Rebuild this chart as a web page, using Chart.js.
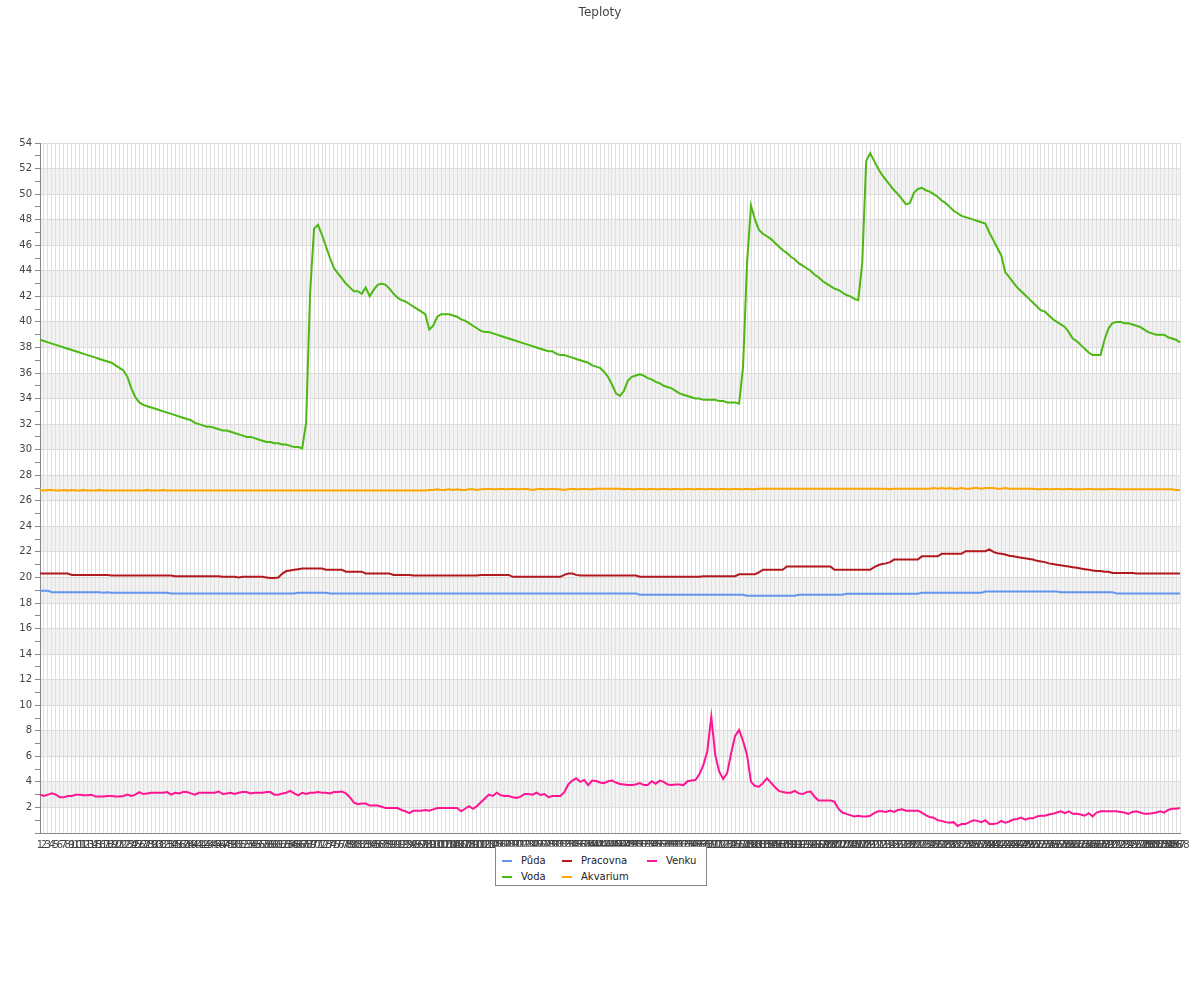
<!DOCTYPE html>
<html>
<head>
<meta charset="utf-8">
<title>Teploty</title>
<script src="https://cdn.jsdelivr.net/npm/chart.js@4.4.1/dist/chart.umd.min.js"></script>
<style>
    body { margin: 0; background: #fff; }
    #wrap { position: relative; width: 1200px; height: 1000px; }
    #legend {
        position: absolute; left: 495px; top: 846px; width: 212px; height: 40px;
        box-sizing: border-box; border: 1px solid #888; background: #fff;
        font: 10px "DejaVu Sans", sans-serif; color: #222;
    }
    #legend .sw { position: absolute; width: 10px; height: 2px; }
    #legend .tx { position: absolute; line-height: 12px; white-space: nowrap; }
</style>
</head>
<body>
<div id="wrap">
    <canvas id="teplotyChart" width="1200" height="1000"></canvas>
    <div id="legend"></div>
</div>
<script>
// kategorie 1..288 (5 min krok)
var labels = Array.from({ length: 288 }, function(_, i) { return String(i + 1); });

var puda = [
    18.95,18.95,18.95,18.85,18.85,18.85,18.85,18.85,18.85,18.85,18.85,18.85,18.85,18.85,18.85,18.85,
    18.8,18.85,18.8,18.8,18.8,18.8,18.8,18.8,18.8,18.8,18.8,18.8,18.8,18.8,18.8,18.8,
    18.8,18.75,18.75,18.75,18.75,18.75,18.75,18.75,18.75,18.75,18.75,18.75,18.75,18.75,18.75,18.75,
    18.75,18.75,18.75,18.75,18.75,18.75,18.75,18.75,18.75,18.75,18.75,18.75,18.75,18.75,18.75,18.75,
    18.75,18.8,18.8,18.8,18.8,18.8,18.8,18.8,18.8,18.75,18.75,18.75,18.75,18.75,18.75,18.75,
    18.75,18.75,18.75,18.75,18.75,18.75,18.75,18.75,18.75,18.75,18.75,18.75,18.75,18.75,18.75,18.75,
    18.75,18.75,18.75,18.75,18.75,18.75,18.75,18.75,18.75,18.75,18.75,18.75,18.75,18.75,18.75,18.75,
    18.75,18.75,18.75,18.75,18.75,18.75,18.75,18.75,18.75,18.75,18.75,18.75,18.75,18.75,18.75,18.75,
    18.75,18.75,18.75,18.75,18.75,18.75,18.75,18.75,18.75,18.75,18.75,18.75,18.75,18.75,18.75,18.75,
    18.75,18.75,18.75,18.75,18.75,18.75,18.75,18.65,18.65,18.65,18.65,18.65,18.65,18.65,18.65,18.65,
    18.65,18.65,18.65,18.65,18.65,18.65,18.65,18.65,18.65,18.65,18.65,18.65,18.65,18.65,18.65,18.65,
    18.65,18.65,18.57,18.57,18.57,18.57,18.57,18.57,18.57,18.57,18.57,18.57,18.57,18.57,18.57,18.65,
    18.65,18.65,18.65,18.65,18.65,18.65,18.65,18.65,18.65,18.65,18.65,18.72,18.72,18.72,18.72,18.72,
    18.72,18.72,18.72,18.72,18.72,18.72,18.72,18.72,18.72,18.72,18.72,18.72,18.72,18.72,18.8,18.8,
    18.8,18.8,18.8,18.8,18.8,18.8,18.8,18.8,18.8,18.8,18.8,18.8,18.8,18.8,18.9,18.9,
    18.9,18.9,18.9,18.9,18.9,18.9,18.9,18.9,18.9,18.9,18.9,18.9,18.9,18.9,18.9,18.9,
    18.9,18.85,18.85,18.85,18.85,18.85,18.85,18.85,18.85,18.85,18.85,18.85,18.85,18.85,18.85,18.75,
    18.75,18.75,18.75,18.75,18.75,18.75,18.75,18.75,18.75,18.75,18.75,18.75,18.75,18.75,18.75,18.75
];

var voda = [
    38.6,38.5,38.4,38.3,38.2,38.1,38.0,37.9,37.8,37.7,37.6,37.5,37.4,37.3,37.2,37.1,
    37.0,36.9,36.8,36.6,36.4,36.2,35.7,34.8,34.1,33.7,33.5,33.4,33.3,33.2,33.1,33.0,
    32.9,32.8,32.7,32.6,32.5,32.4,32.3,32.1,32.0,31.9,31.8,31.8,31.7,31.6,31.5,31.5,
    31.4,31.3,31.2,31.1,31.0,31.0,30.9,30.8,30.7,30.6,30.6,30.5,30.5,30.4,30.4,30.3,
    30.2,30.2,30.1,32.1,42.3,47.3,47.6,46.8,45.9,45.0,44.2,43.8,43.4,43.0,42.7,42.4,
    42.4,42.2,42.7,42.0,42.5,42.9,43.0,42.9,42.6,42.2,41.9,41.7,41.6,41.4,41.2,41.0,
    40.8,40.6,39.4,39.7,40.4,40.6,40.6,40.6,40.5,40.4,40.2,40.1,39.9,39.7,39.5,39.3,
    39.2,39.2,39.1,39.0,38.9,38.8,38.7,38.6,38.5,38.4,38.3,38.2,38.1,38.0,37.9,37.8,
    37.7,37.7,37.5,37.4,37.4,37.3,37.2,37.1,37.0,36.9,36.8,36.6,36.5,36.4,36.1,35.7,
    35.1,34.4,34.2,34.6,35.4,35.7,35.8,35.9,35.8,35.6,35.5,35.3,35.2,35.0,34.9,34.8,
    34.6,34.4,34.3,34.2,34.1,34.0,34.0,33.9,33.9,33.9,33.9,33.8,33.8,33.7,33.7,33.7,
    33.6,36.5,44.6,49.1,48.0,47.2,46.9,46.7,46.5,46.2,45.9,45.6,45.4,45.1,44.9,44.6,
    44.4,44.2,44.0,43.7,43.5,43.2,43.0,42.8,42.6,42.5,42.3,42.1,42.0,41.8,41.7,44.6,
    52.6,53.2,52.6,52.0,51.5,51.1,50.7,50.3,50.0,49.6,49.2,49.3,50.1,50.4,50.5,50.3,
    50.2,50.0,49.8,49.5,49.3,49.0,48.7,48.5,48.3,48.2,48.1,48.0,47.9,47.8,47.7,47.0,
    46.4,45.8,45.2,43.9,43.5,43.1,42.7,42.4,42.1,41.8,41.5,41.2,40.9,40.8,40.5,40.2,
    40.0,39.8,39.6,39.2,38.7,38.5,38.2,37.9,37.6,37.4,37.4,37.4,38.6,39.5,39.9,40.0,
    40.0,39.9,39.9,39.8,39.7,39.6,39.4,39.2,39.1,39.0,39.0,39.0,38.8,38.7,38.6,38.4
];

var pracovna = [
    20.3,20.3,20.3,20.3,20.3,20.3,20.3,20.3,20.2,20.2,20.2,20.2,20.2,20.2,20.2,20.2,
    20.2,20.2,20.15,20.15,20.15,20.15,20.15,20.15,20.15,20.15,20.15,20.15,20.15,20.15,20.15,20.15,
    20.15,20.15,20.1,20.1,20.1,20.1,20.1,20.1,20.1,20.1,20.1,20.1,20.1,20.1,20.05,20.05,
    20.05,20.05,20.0,20.05,20.05,20.05,20.05,20.05,20.05,20.0,19.95,19.95,20.0,20.3,20.5,20.55,
    20.6,20.65,20.7,20.7,20.7,20.7,20.7,20.7,20.6,20.6,20.6,20.6,20.6,20.45,20.45,20.45,
    20.45,20.45,20.3,20.3,20.3,20.3,20.3,20.3,20.3,20.2,20.2,20.2,20.2,20.2,20.15,20.15,
    20.15,20.15,20.15,20.15,20.15,20.15,20.15,20.15,20.15,20.15,20.15,20.15,20.15,20.15,20.15,20.2,
    20.2,20.2,20.2,20.2,20.2,20.2,20.2,20.05,20.05,20.05,20.05,20.05,20.05,20.05,20.05,20.05,
    20.05,20.05,20.05,20.05,20.2,20.3,20.3,20.2,20.15,20.15,20.15,20.15,20.15,20.15,20.15,20.15,
    20.15,20.15,20.15,20.15,20.15,20.15,20.15,20.05,20.05,20.05,20.05,20.05,20.05,20.05,20.05,20.05,
    20.05,20.05,20.05,20.05,20.05,20.05,20.05,20.1,20.1,20.1,20.1,20.1,20.1,20.1,20.1,20.1,
    20.25,20.25,20.25,20.25,20.25,20.4,20.6,20.6,20.6,20.6,20.6,20.6,20.85,20.85,20.85,20.85,
    20.85,20.85,20.85,20.85,20.85,20.85,20.85,20.85,20.6,20.6,20.6,20.6,20.6,20.6,20.6,20.6,
    20.6,20.6,20.8,20.95,21.05,21.1,21.2,21.4,21.4,21.4,21.4,21.4,21.4,21.4,21.65,21.65,
    21.65,21.65,21.65,21.85,21.85,21.85,21.85,21.85,21.85,22.05,22.05,22.05,22.05,22.05,22.05,22.2,
    22.0,21.9,21.85,21.8,21.7,21.65,21.6,21.55,21.5,21.45,21.4,21.3,21.25,21.2,21.1,21.05,
    21.0,20.95,20.9,20.85,20.8,20.75,20.7,20.65,20.6,20.55,20.5,20.5,20.45,20.45,20.35,20.35,
    20.35,20.35,20.35,20.35,20.3,20.3,20.3,20.3,20.3,20.3,20.3,20.3,20.3,20.3,20.3,20.3
];

var akvarium = [
    26.85,26.8,26.85,26.85,26.8,26.8,26.85,26.8,26.85,26.8,26.8,26.85,26.8,26.8,26.8,26.85,
    26.8,26.8,26.8,26.8,26.8,26.8,26.8,26.8,26.8,26.8,26.8,26.85,26.8,26.8,26.8,26.85,
    26.8,26.8,26.8,26.8,26.8,26.8,26.8,26.8,26.8,26.8,26.8,26.8,26.8,26.8,26.8,26.8,
    26.8,26.8,26.8,26.8,26.8,26.8,26.8,26.8,26.8,26.8,26.8,26.8,26.8,26.8,26.8,26.8,
    26.8,26.8,26.8,26.8,26.8,26.8,26.8,26.8,26.8,26.8,26.8,26.8,26.8,26.8,26.8,26.8,
    26.8,26.8,26.8,26.8,26.8,26.8,26.8,26.8,26.8,26.8,26.8,26.8,26.8,26.8,26.8,26.8,
    26.8,26.8,26.85,26.85,26.9,26.85,26.85,26.9,26.85,26.9,26.85,26.85,26.9,26.9,26.85,26.9,
    26.9,26.95,26.9,26.9,26.95,26.9,26.9,26.95,26.9,26.9,26.95,26.9,26.85,26.9,26.95,26.9,
    26.9,26.95,26.9,26.9,26.85,26.9,26.95,26.9,26.9,26.95,26.9,26.9,26.95,26.95,26.95,26.95,
    26.95,26.95,26.95,26.9,26.95,26.9,26.9,26.95,26.9,26.9,26.95,26.9,26.9,26.95,26.9,26.9,
    26.95,26.9,26.9,26.95,26.9,26.9,26.95,26.9,26.9,26.95,26.9,26.9,26.95,26.9,26.9,26.95,
    26.9,26.9,26.95,26.9,26.9,26.95,26.95,26.95,26.95,26.95,26.95,26.95,26.95,26.95,26.95,26.95,
    26.95,26.95,26.95,26.95,26.95,26.95,26.95,26.95,26.95,26.95,26.95,26.95,26.95,26.95,26.95,26.95,
    26.95,26.95,26.95,26.95,26.95,26.95,26.9,26.95,26.95,26.95,26.95,26.95,26.95,26.95,26.95,26.95,
    26.95,27.0,26.95,27.0,26.95,27.0,26.95,26.95,27.0,26.95,26.95,27.0,27.0,26.95,27.0,27.0,
    27.0,26.95,26.95,27.0,26.95,26.95,26.95,26.95,26.95,26.95,26.95,26.9,26.9,26.95,26.9,26.9,
    26.95,26.9,26.9,26.95,26.9,26.9,26.9,26.9,26.95,26.9,26.9,26.9,26.9,26.9,26.95,26.9,
    26.9,26.9,26.9,26.9,26.9,26.9,26.9,26.9,26.9,26.9,26.9,26.9,26.9,26.9,26.85,26.85
];

var venku = [
    3.0,2.9,3.0,3.1,3.0,2.8,2.8,2.9,2.9,3.0,3.0,2.95,2.95,3.0,2.85,2.85,
    2.85,2.9,2.9,2.85,2.85,2.9,3.0,2.9,3.0,3.2,3.05,3.1,3.15,3.15,3.15,3.15,
    3.2,3.0,3.15,3.1,3.2,3.2,3.1,3.0,3.15,3.15,3.15,3.15,3.15,3.25,3.05,3.1,
    3.15,3.05,3.15,3.2,3.2,3.1,3.15,3.15,3.15,3.2,3.2,3.0,3.0,3.1,3.15,3.3,
    3.1,2.95,3.15,3.05,3.15,3.15,3.2,3.15,3.15,3.1,3.2,3.2,3.25,3.1,2.8,2.4,
    2.25,2.3,2.3,2.15,2.15,2.15,2.05,1.95,1.95,1.95,1.95,1.8,1.7,1.55,1.75,1.75,
    1.75,1.8,1.75,1.85,1.95,1.95,1.95,1.95,1.95,1.95,1.7,1.9,2.1,1.9,2.1,2.4,
    2.7,3.0,2.9,3.15,2.95,2.9,2.9,2.8,2.75,2.85,3.05,3.05,3.0,3.15,2.97,3.05,
    2.8,2.9,2.9,2.9,3.2,3.8,4.1,4.28,4.0,4.15,3.75,4.1,4.07,3.95,3.9,4.05,
    4.1,3.95,3.83,3.8,3.75,3.75,3.8,3.9,3.75,3.75,4.05,3.85,4.1,4.0,3.8,3.75,
    3.8,3.8,3.75,4.05,4.1,4.15,4.6,5.3,6.4,9.1,6.1,4.8,4.22,4.7,6.24,7.6,
    8.06,7.2,6.1,4.0,3.68,3.62,3.9,4.28,3.94,3.6,3.3,3.2,3.15,3.15,3.3,3.1,
    3.05,3.2,3.25,2.84,2.55,2.55,2.55,2.55,2.45,1.9,1.6,1.5,1.4,1.3,1.35,1.3,
    1.3,1.35,1.55,1.7,1.7,1.65,1.75,1.65,1.8,1.85,1.75,1.75,1.75,1.75,1.6,1.4,
    1.25,1.2,1.0,0.95,0.85,0.8,0.85,0.55,0.7,0.7,0.85,1.0,0.95,0.85,1.0,0.7,
    0.7,0.75,0.95,0.8,0.9,1.05,1.1,1.2,1.05,1.15,1.15,1.3,1.35,1.35,1.45,1.5,
    1.6,1.7,1.55,1.7,1.5,1.5,1.45,1.35,1.55,1.3,1.6,1.7,1.7,1.7,1.7,1.7,
    1.65,1.6,1.5,1.65,1.7,1.6,1.5,1.5,1.55,1.6,1.7,1.6,1.8,1.9,1.9,1.95
];

var series = [
    { label: 'Půda', data: puda, color: '#6495ed' },
    { label: 'Voda', data: voda, color: '#4cb813' },
    { label: 'Pracovna', data: pracovna, color: '#b2191e' },
    { label: 'Akvarium', data: akvarium, color: '#ffa500' },
    { label: 'Venku', data: venku, color: '#ff1493' }
];

// sede pruhy mezi 2-4, 6-8, ... (podle osy y)
var bandsPlugin = {
    id: 'bands',
    beforeDraw: function(chart) {
        var ctx = chart.ctx, area = chart.chartArea, y = chart.scales.y;
        ctx.save();
        ctx.fillStyle = '#f2f2f2';
        for (var v = 2; v < y.max; v += 4) {
            var top = y.getPixelForValue(Math.min(v + 2, y.max));
            var bottom = y.getPixelForValue(v);
            ctx.fillRect(area.left, top, area.right - area.left, bottom - top);
        }
        ctx.restore();
    }
};

Chart.defaults.font.family = '"DejaVu Sans", sans-serif';

function createTeplotyChart() {
    var ctx = document.getElementById('teplotyChart').getContext('2d');
    new Chart(ctx, {
        type: 'line',
        data: {
            labels: labels,
            datasets: series.map(function(s) {
                return {
                    label: s.label,
                    data: s.data,
                    borderColor: s.color,
                    backgroundColor: s.color,
                    borderWidth: 2,
                    pointRadius: 0,
                    tension: 0,
                    fill: false
                };
            })
        },
        options: {
            responsive: false,
            animation: false,
            layout: { padding: { left: 0, right: 0, top: 0, bottom: 147 } },
            plugins: {
                legend: { display: false },
                tooltip: { enabled: false },
                title: {
                    display: true,
                    text: 'Teploty',
                    color: '#444',
                    font: { size: 12, weight: 'normal' },
                    padding: { top: 6, bottom: 122.6 }
                }
            },
            scales: {
                x: {
                    afterFit: function(scale) { scale.height = 20; },
                    grid: { color: '#e0e0e0', drawTicks: false },
                    border: { color: '#888' },
                    ticks: {
                        autoSkip: false, maxRotation: 0, minRotation: 0,
                        padding: 6, color: '#444', font: { size: 10 }
                    }
                },
                y: {
                    min: 0,
                    max: 54,
                    afterFit: function(scale) { scale.width = 40; },
                    grid: {
                        color: function(c) { return c.tick && c.tick.value % 2 === 0 ? '#dcdcdc' : 'rgba(0,0,0,0)'; },
                        tickColor: '#888',
                        tickLength: 5
                    },
                    border: { color: '#888' },
                    ticks: {
                        stepSize: 1,
                        autoSkip: false,
                        padding: 3,
                        color: '#444',
                        font: { size: 10 },
                        callback: function(v) { return (v % 2 === 0 && v !== 0) ? v : ''; }
                    }
                },
                // prazdny okraj vpravo, aby nadpis zustal uprostred platna
                rightGap: {
                    position: 'right',
                    afterFit: function(scale) { scale.width = 20; },
                    grid: { display: false, drawTicks: false },
                    border: { display: false },
                    ticks: { display: false }
                }
            }
        },
        plugins: [bandsPlugin]
    });
}

function createLegend() {
    // sloupce po dvou polozkach, jako v predloze
    var legend = document.getElementById('legend');
    var cols = [6, 66, 151];
    series.forEach(function(s, i) {
        var col = Math.floor(i / 2), row = i % 2;
        var cy = 14 + row * 16;
        var sw = document.createElement('div');
        sw.className = 'sw';
        sw.style.left = cols[col] + 'px';
        sw.style.top = (cy - 1) + 'px';
        sw.style.background = s.color;
        var tx = document.createElement('div');
        tx.className = 'tx';
        tx.style.left = (cols[col] + 19) + 'px';
        tx.style.top = (cy - 6) + 'px';
        tx.textContent = s.label;
        legend.appendChild(sw);
        legend.appendChild(tx);
    });
}

createTeplotyChart();
createLegend();
</script>
</body>
</html>
